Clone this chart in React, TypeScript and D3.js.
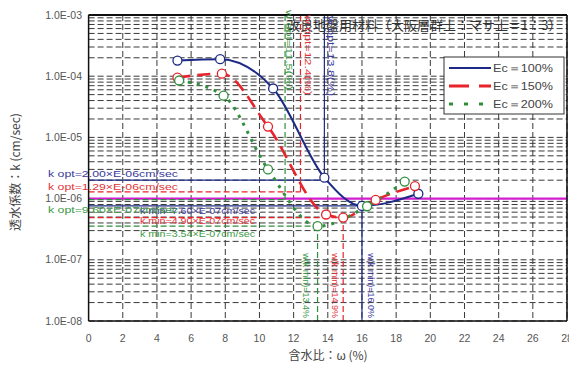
import React from "react";
import * as d3 from "d3";

// ---- data ----
const seriesNames = ["Ec＝100%", "Ec＝150%", "Ec＝200%"];
const seriesColors = ["#1c2a85", "#e8232b", "#2f8f3c"];
const wBlue = [5.2, 7.7, 10.8, 13.8, 16.0, 19.3];
const kBlue = [1.8e-4, 1.9e-4, 6.3e-5, 2.2e-6, 7.6e-7, 1.2e-6];
const wRed = [5.2, 7.8, 10.5, 13.9, 14.9, 16.8, 19.1];
const kRed = [9.5e-5, 1.1e-4, 1.5e-5, 5.5e-7, 4.9e-7, 9.5e-7, 1.6e-6];
const wGreen = [5.3, 7.9, 10.5, 13.4, 16.3, 18.5];
const kGreen = [8.5e-5, 4.8e-5, 3.0e-6, 3.54e-7, 7.5e-7, 1.9e-6];

const wOpt = [13.8, 12.4, 11.5];
const kOpt = [2.0e-6, 1.29e-6, 9.6e-7];
const wMin = [16.0, 14.9, 13.4];
const kMin = [7.6e-7, 4.9e-7, 3.54e-7];
const kOptLabels = ["k opt=2.00×E-06cm/sec", "k opt=1.29×E-06cm/sec", "k opt=9.60×E-07cm/sec"];
const kMinLabels = ["k min=7.60×E-07cm/sec", "k min=4.90×E-07cm/sec", "k min=3.54×E-07cm/sec"];
const wOptLabels = ["w opt=13.8(%)", "w opt=12.4(%)", "w opt=11.5(%)"];
const wMinLabels = ["w(k min)=16.0%", "w(k min)=14.9%", "w(k min)=13.4%"];
const kRef = 1e-6;

const xTicks = [0, 2, 4, 6, 8, 10, 12, 14, 16, 18, 20, 22, 24, 26, 28];
const yTicks = [1e-3, 1e-4, 1e-5, 1e-6, 1e-7, 1e-8];
const yTickLabels = ["1.0E-03", "1.0E-04", "1.0E-05", "1.0E-06", "1.0E-07", "1.0E-08"];
const decades = [-8, -7, -6, -5, -4];
const mantissas = [1, 2, 3, 4, 5, 6, 7, 8, 9];

const title = "改良地盤用材料（大阪層群土：マサ土＝1：3）";
const xTitle = "含水比：ω (%)";
const yTitle = "透水係数：k (cm/sec)";

// ---- layout ----
const W = 569, H = 367;
const L = 88.6, R = 567, T = 15, B = 321;
const NUM = "'Liberation Sans', Arial, sans-serif";
const JP = "'Noto Sans CJK JP', 'Noto Sans', sans-serif";

export default function App() {
  const x = d3.scaleLinear().domain([0, 28]).range([L, R]);
  const y = d3.scaleLog().domain([1e-8, 1e-3]).range([B, T]);

  const series = [
    { w: wBlue, k: kBlue },
    { w: wRed, k: kRed },
    { w: wGreen, k: kGreen },
  ];
  const line = d3
    .line<[number, number]>()
    .x((d) => x(d[0]))
    .y((d) => y(d[1]))
    .curve(d3.curveMonotoneX);

  const dashes = ["", "13,7", "3,6"];
  const widths = [2, 2.6, 3];
  const annDash = ["", "6,3", "6,3"];
  const textColors = ["#3a3a9c", "#e2343a", "#3a9a45"];

  const minorLines: number[] = [];
  decades.forEach((e) => mantissas.forEach((m) => minorLines.push(m * Math.pow(10, e))));
  minorLines.push(1e-3);

  const kOptY = [177, 190, 213];
  const kMinY = [214, 224, 237];
  const topLabelX = [328, 305, 286];
  const topLabelY = [16, 15, 10];
  const botLabelX = [368, 332, 303];

  return (
    <svg width={W} height={H} style={{ position: "absolute", left: 0, top: 0, background: "#fff" }}>
      <rect x={0} y={0} width={W} height={H} fill="#fff" />
      {/* grid */}
      <g stroke="#3a3a3a" strokeWidth={1} strokeDasharray="6,3">
        {minorLines.map((v, i) => (
          <line key={"h" + i} x1={L} x2={R} y1={y(v)} y2={y(v)} />
        ))}
        {xTicks.slice(1).map((t) => (
          <line key={"v" + t} x1={x(t)} x2={x(t)} y1={T} y2={B} />
        ))}
      </g>
      {/* reference line */}
      <line x1={L} x2={R} y1={y(kRef)} y2={y(kRef)} stroke="#d21fd2" strokeWidth={2.2} />

      {/* annotation lines */}
      {[0, 1, 2].map((i) => (
        <g key={"ann" + i} stroke={seriesColors[i]} strokeWidth={1.2} strokeDasharray={annDash[i]} fill="none">
          <line x1={x(wOpt[i])} x2={x(wOpt[i])} y1={T} y2={y(kOpt[i])} />
          <line x1={L} x2={x(wOpt[i])} y1={y(kOpt[i])} y2={y(kOpt[i])} />
          <line x1={x(wMin[i])} x2={x(wMin[i])} y1={B} y2={y(kMin[i])} />
          <line x1={L} x2={x(wMin[i])} y1={y(kMin[i])} y2={y(kMin[i])} />
        </g>
      ))}

      {/* curves */}
      {series.map((s, i) => (
        <path
          key={"s" + i}
          d={line(s.w.map((w, j) => [w, s.k[j]] as [number, number])) || ""}
          fill="none"
          stroke={seriesColors[i]}
          strokeWidth={widths[i]}
          strokeDasharray={dashes[i]}
        />
      ))}
      {series.map((s, i) =>
        s.w.map((w, j) => (
          <circle key={"c" + i + "-" + j} cx={x(w)} cy={y(s.k[j])} r={4.5} fill="#fff" stroke={seriesColors[i]} strokeWidth={1.3} />
        ))
      )}

      {/* plot border */}
      <line x1={L} x2={R} y1={T} y2={T} stroke="#111" strokeWidth={2} />
      <line x1={L} x2={L} y1={T} y2={B} stroke="#111" strokeWidth={1.5} />
      <line x1={L} x2={R} y1={B} y2={B} stroke="#111" strokeWidth={1.5} />
      <line x1={R} x2={R} y1={T} y2={B} stroke="#111" strokeWidth={1.5} />

      {/* title */}
      <text x={287} y={30} fontFamily={JP} fontSize={13} fill="#333">{title}</text>

      {/* annotation texts */}
      {[0, 1, 2].map((i) => (
        <g key={"at" + i} fill={textColors[i]} fontFamily={NUM} fontSize={9}>
          <text x={48} y={kOptY[i]} textLength={130} lengthAdjust="spacingAndGlyphs">{kOptLabels[i]}</text>
          <text x={140} y={kMinY[i]} textLength={115} lengthAdjust="spacingAndGlyphs">{kMinLabels[i]}</text>
          <text transform={`translate(${topLabelX[i]},${topLabelY[i]}) rotate(90)`} textLength={80} lengthAdjust="spacingAndGlyphs">{wOptLabels[i]}</text>
          <text transform={`translate(${botLabelX[i]},${318}) rotate(90)`} textAnchor="end">{wMinLabels[i]}</text>
        </g>
      ))}

      {/* axes labels */}
      {yTicks.map((t, i) => (
        <text key={"yl" + i} x={82} y={y(t) + 3.5} textAnchor="end" fontFamily={NUM} fontSize={10.5} fill="#555">
          {yTickLabels[i]}
        </text>
      ))}
      {xTicks.map((t) => (
        <text key={"xl" + t} x={x(t)} y={342} textAnchor="middle" fontFamily={NUM} fontSize={10.5} fill="#555">
          {t}
        </text>
      ))}
      <text x={328} y={360} textAnchor="middle" fontFamily={JP} fontSize={12} fill="#444">{xTitle}</text>
      <text transform={`translate(20,${172}) rotate(-90)`} textAnchor="middle" fontFamily={JP} fontSize={12} fill="#444">
        {yTitle}
      </text>

      {/* legend */}
      <rect x={444} y={57} width={120} height={57} fill="#fff" stroke="#333" strokeWidth={1} />
      {[0, 1, 2].map((i) => (
        <g key={"lg" + i}>
          <line x1={449} x2={491} y1={68 + i * 18} y2={68 + i * 18} stroke={seriesColors[i]} strokeWidth={i === 0 ? 2.2 : 3} strokeDasharray={i === 0 ? "" : i === 1 ? "20,10" : "4,11"} />
          <text x={493} y={72 + i * 18} fontFamily={NUM} fontSize={10.5} fill="#444" textLength={60} lengthAdjust="spacingAndGlyphs">
            {seriesNames[i]}
          </text>
        </g>
      ))}
    </svg>
  );
}
